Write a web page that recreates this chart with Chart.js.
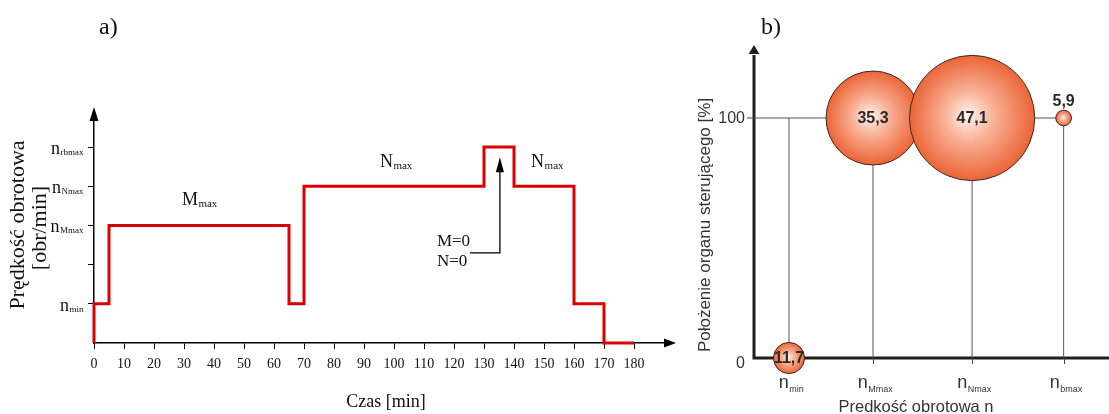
<!DOCTYPE html>
<html>
<head>
<meta charset="utf-8">
<script src="https://cdn.jsdelivr.net/npm/chart.js@4.4.1/dist/chart.umd.min.js"></script>
<style>
    body { margin: 0; background: #fff; width: 1109px; height: 414px; overflow: hidden; position: relative; }
    #chart-a { position: absolute; left: 0; top: 0; }
    #chart-b { position: absolute; left: 680px; top: 0; }
</style>
</head>
<body>
<canvas id="chart-a" width="680" height="414"></canvas>
<canvas id="chart-b" width="429" height="414"></canvas>
<script>
// a) przebieg prędkości obrotowej w czasie (poziomy: 0, n_min=1, n_Mmax=3, n_Nmax=4, n_rbmax=5)
const czasMin = [0, 0, 5, 5, 65, 65, 70, 70, 130, 130, 140, 140, 160, 160, 170, 170, 180];
const poziomPredkosci = [0, 1, 1, 3, 3, 1, 1, 4, 4, 5, 5, 4, 4, 1, 1, 0, 0];
const poziomyEtykiet = [1, 3, 4, 5];
const indeksyEtykiet = ['min', 'Mmax', 'Nmax', 'rbmax'];

// b) udział czasu pracy [%] przy danej prędkości i położeniu organu sterującego
const predkosciIndeksy = ['min', 'Mmax', 'Nmax', 'bmax'];
const predkoscX = [0, 1, 2.18, 3.27];
const polozenie = [0, 100, 100, 100];
const udzial = [11.7, 35.3, 47.1, 5.9];
const polozenieTicks = [0, 100];

const SERIF = "'Liberation Serif', 'Times New Roman', serif";
const SANS = "'Liberation Sans', Arial, sans-serif";

function napisZIndeksem(ctx, x, yBase, glowny, indeks, fGl, fInd, wyr, dy) {
    ctx.font = fGl;
    const wG = ctx.measureText(glowny).width;
    ctx.font = fInd;
    const wI = ctx.measureText(indeks).width;
    let x0 = x;
    if (wyr === 'right') x0 = x - wG - wI;
    else if (wyr === 'center') x0 = x - (wG + wI) / 2;
    ctx.textAlign = 'left';
    ctx.textBaseline = 'alphabetic';
    ctx.font = fGl;
    ctx.fillText(glowny, x0, yBase);
    ctx.font = fInd;
    ctx.fillText(indeks, x0 + wG + 0.5, yBase + dy);
}

function strzalka(ctx, x, y, dx, dy, w) {
    // grot: czubek w (x,y), podstawa przesunięta o (dx,dy)
    ctx.beginPath();
    ctx.moveTo(x, y);
    ctx.lineTo(x + dx - dy * w, y + dy + dx * w);
    ctx.lineTo(x + dx + dy * w, y + dy - dx * w);
    ctx.closePath();
    ctx.fill();
}

const rysunekA = {
    id: 'rysunekA',
    afterDraw(chart) {
        const { ctx, chartArea: a, scales: { x, y } } = chart;
        ctx.save();
        ctx.fillStyle = '#000';
        ctx.strokeStyle = '#000';

        // groty osi
        strzalka(ctx, a.right + 9, a.bottom, -12, 0, 0.38);
        strzalka(ctx, a.left, a.top - 11, 0, 14, 0.32);

        // etykiety osi Y
        ctx.fillStyle = '#111';
        poziomyEtykiet.forEach((lv, i) => {
            napisZIndeksem(ctx, 83, y.getPixelForValue(lv) + 7, 'n', indeksyEtykiet[i],
                '18px ' + SERIF, '9px ' + SERIF, 'right', 1);
        });

        // opisy odcinków
        const opisy = [['M', 29.3, 3.67], ['N', 95.3, 4.64], ['N', 145.7, 4.64]];
        opisy.forEach(([lit, t, lv]) => {
            napisZIndeksem(ctx, x.getPixelForValue(t), y.getPixelForValue(lv) + 6, lit, 'max',
                '18px ' + SERIF, '11px ' + SERIF, 'left', 1.5);
        });

        ctx.font = '17px ' + SERIF;
        ctx.textAlign = 'left';
        ctx.textBaseline = 'middle';
        ctx.fillText('M=0', x.getPixelForValue(114.3), y.getPixelForValue(2.6));
        ctx.fillText('N=0', x.getPixelForValue(114.3), y.getPixelForValue(2.09));

        // strzałka M=0, N=0
        ctx.lineWidth = 1.3;
        ctx.beginPath();
        ctx.moveTo(x.getPixelForValue(125.3), y.getPixelForValue(2.3));
        ctx.lineTo(x.getPixelForValue(135.3), y.getPixelForValue(2.3));
        ctx.lineTo(x.getPixelForValue(135.3), y.getPixelForValue(4.4));
        ctx.stroke();
        ctx.fillStyle = '#000';
        strzalka(ctx, x.getPixelForValue(135.3), y.getPixelForValue(4.74), 0, 15, 0.27);

        // tytuły
        ctx.fillStyle = '#111';
        ctx.textAlign = 'center';
        ctx.textBaseline = 'middle';
        ctx.font = '18px ' + SERIF;
        ctx.fillText('Czas [min]', 386, 402);
        ctx.font = '24px ' + SERIF;
        ctx.textAlign = 'left';
        ctx.fillText('a)', 99, 28);

        ctx.font = '22px ' + SERIF;
        ctx.textAlign = 'center';
        ctx.save();
        ctx.translate(18, 225);
        ctx.rotate(-Math.PI / 2);
        ctx.fillText('Prędkość obrotowa', 0, 0);
        ctx.restore();
        ctx.save();
        ctx.translate(40, 228);
        ctx.rotate(-Math.PI / 2);
        ctx.fillText('[obr/min]', 0, 0);
        ctx.restore();

        ctx.restore();
    }
};

new Chart(document.getElementById('chart-a'), {
    type: 'line',
    data: {
        datasets: [{
            data: czasMin.map((t, i) => ({ x: t, y: poziomPredkosci[i] })),
            borderColor: '#dd0000',
            borderWidth: 3,
            borderJoinStyle: 'miter',
            pointRadius: 0,
            tension: 0,
            fill: false,
            clip: false
        }]
    },
    options: {
        responsive: false,
        animation: false,
        events: [],
        layout: { autoPadding: false, padding: { left: 0, top: 118, right: 13, bottom: 0 } },
        plugins: { legend: { display: false }, tooltip: { enabled: false } },
        scales: {
            x: {
                type: 'linear',
                min: 0,
                max: 191,
                afterFit: s => { s.height = 71; },
                border: { display: true, color: '#000', width: 1.5 },
                grid: {
                    drawOnChartArea: false,
                    drawTicks: true,
                    tickLength: 6,
                    color: c => (c.tick && c.tick.value <= 180) ? '#000' : 'rgba(0,0,0,0)'
                },
                ticks: {
                    stepSize: 10,
                    autoSkip: false,
                    maxRotation: 0,
                    padding: 7,
                    color: '#111',
                    font: { family: SERIF, size: 14 },
                    callback: v => v <= 180 ? v : ''
                }
            },
            y: {
                type: 'linear',
                min: 0,
                max: 5.74,
                afterFit: s => { s.width = 94; },
                border: { display: true, color: '#000', width: 1.5 },
                grid: {
                    drawOnChartArea: false,
                    drawTicks: true,
                    tickLength: 6,
                    color: c => (c.tick && c.tick.value >= 1 && c.tick.value <= 5) ? '#000' : 'rgba(0,0,0,0)'
                },
                ticks: { display: false, stepSize: 1 }
            }
        }
    },
    plugins: [rysunekA]
});

// ---------- b) ----------
const fmt = v => v.toFixed(1).replace('.', ',');

const rysunekB = {
    id: 'rysunekB',
    beforeDatasetsDraw(chart) {
        const { ctx, chartArea: a, scales: { x, y } } = chart;
        ctx.save();
        ctx.strokeStyle = '#1e1e1e';
        ctx.fillStyle = '#1e1e1e';
        ctx.lineWidth = 3;
        ctx.beginPath();
        ctx.moveTo(a.left - 1.5, a.bottom);
        ctx.lineTo(a.right, a.bottom);
        ctx.moveTo(a.left, a.bottom + 1.5);
        ctx.lineTo(a.left, a.top);
        ctx.stroke();
        strzalka(ctx, a.left, a.top - 10, 0, 9, 0.6);

        ctx.lineWidth = 1;
        ctx.strokeStyle = '#444';
        ctx.beginPath();
        ctx.moveTo(a.left - 7, y.getPixelForValue(polozenieTicks[1]));
        ctx.lineTo(a.left, y.getPixelForValue(polozenieTicks[1]));
        predkoscX.forEach(v => {
            const px = Math.round(x.getPixelForValue(v)) + 0.5;
            ctx.moveTo(px, a.bottom);
            ctx.lineTo(px, a.bottom + 6);
        });
        ctx.stroke();

        // etykiety osi
        ctx.fillStyle = '#333';
        ctx.font = '16px ' + SANS;
        ctx.textAlign = 'right';
        ctx.textBaseline = 'middle';
        ctx.fillText('100', a.left - 9, y.getPixelForValue(polozenieTicks[1]) + 1);
        ctx.fillText('0', a.left - 9, y.getPixelForValue(polozenieTicks[0]) + 6);

        predkoscX.forEach((v, i) => {
            napisZIndeksem(ctx, x.getPixelForValue(v) + 2, a.bottom + 30, 'n', predkosciIndeksy[i],
                '18px ' + SANS, '9px ' + SANS, 'center', 4);
        });

        ctx.font = '16.5px ' + SANS;
        ctx.textAlign = 'center';
        ctx.textBaseline = 'middle';
        ctx.fillText('Predkość obrotowa n', 236, 407);
        ctx.font = '17px ' + SANS;
        ctx.save();
        ctx.translate(25, 225);
        ctx.rotate(-Math.PI / 2);
        ctx.fillText('Położenie organu sterującego [%]', 0, 0);
        ctx.restore();

        ctx.fillStyle = '#111';
        ctx.font = '24px ' + SERIF;
        ctx.textAlign = 'left';
        ctx.fillText('b)', 81, 28);
        ctx.restore();
    },
    afterDatasetsDraw(chart) {
        const { ctx } = chart;
        const meta = chart.getDatasetMeta(0);
        ctx.save();
        ctx.fillStyle = '#2a2a2a';
        ctx.font = 'bold 16px ' + SANS;
        ctx.textAlign = 'center';
        ctx.textBaseline = 'middle';
        meta.data.forEach((el, i) => {
            const r = el.options.radius;
            const ty = r > 12 ? el.y + 1 : el.y - r - 9;
            ctx.fillText(fmt(udzial[i]), el.x, ty);
        });
        ctx.restore();
    }
};

const liniePomocnicze = predkoscX.map(v => ({
    type: 'line',
    order: 1,
    data: [{ x: v, y: polozenieTicks[0] }, { x: v, y: polozenieTicks[1] }],
    borderColor: '#555',
    borderWidth: 1,
    pointRadius: 0
}));
const XMIN = -0.417;
liniePomocnicze.push({
    type: 'line',
    order: 1,
    data: [{ x: XMIN, y: polozenieTicks[1] }, { x: predkoscX[predkoscX.length - 1], y: polozenieTicks[1] }],
    borderColor: '#555',
    borderWidth: 1,
    pointRadius: 0
});

function kulaGradient(c) {
    const raw = c.raw;
    const ch = c.chart;
    if (!raw || !ch.scales || !ch.scales.x || !ch.scales.y) return '#ee6a3c';
    const px = ch.scales.x.getPixelForValue(raw.x);
    const py = ch.scales.y.getPixelForValue(raw.y);
    if (!isFinite(px) || !isFinite(py) || !(raw.r > 0)) return '#ee6a3c';
    const g = ch.ctx.createRadialGradient(px - raw.r * 0.08, py - raw.r * 0.05, 0, px, py, raw.r);
    g.addColorStop(0, '#fff4ee');
    g.addColorStop(0.4, '#f8b196');
    g.addColorStop(1, '#ec6436');
    return g;
}

new Chart(document.getElementById('chart-b'), {
    type: 'bubble',
    data: {
        datasets: [{
            type: 'bubble',
            order: 0,
            clip: false,
            data: udzial.map((v, i) => ({ x: predkoscX[i], y: polozenie[i], r: v * 1.33 })),
            backgroundColor: kulaGradient,
            hoverBackgroundColor: kulaGradient,
            borderColor: '#3a2a25',
            borderWidth: 1
        }, ...liniePomocnicze]
    },
    options: {
        responsive: false,
        animation: false,
        events: [],
        layout: { autoPadding: false, padding: { left: 74, top: 55, right: 0, bottom: 56 } },
        plugins: { legend: { display: false }, tooltip: { enabled: false } },
        scales: {
            x: { type: 'linear', min: XMIN, max: 3.81, display: false },
            y: { type: 'linear', min: 0, max: 126.25, display: false }
        }
    },
    plugins: [rysunekB]
});
</script>
</body>
</html>
